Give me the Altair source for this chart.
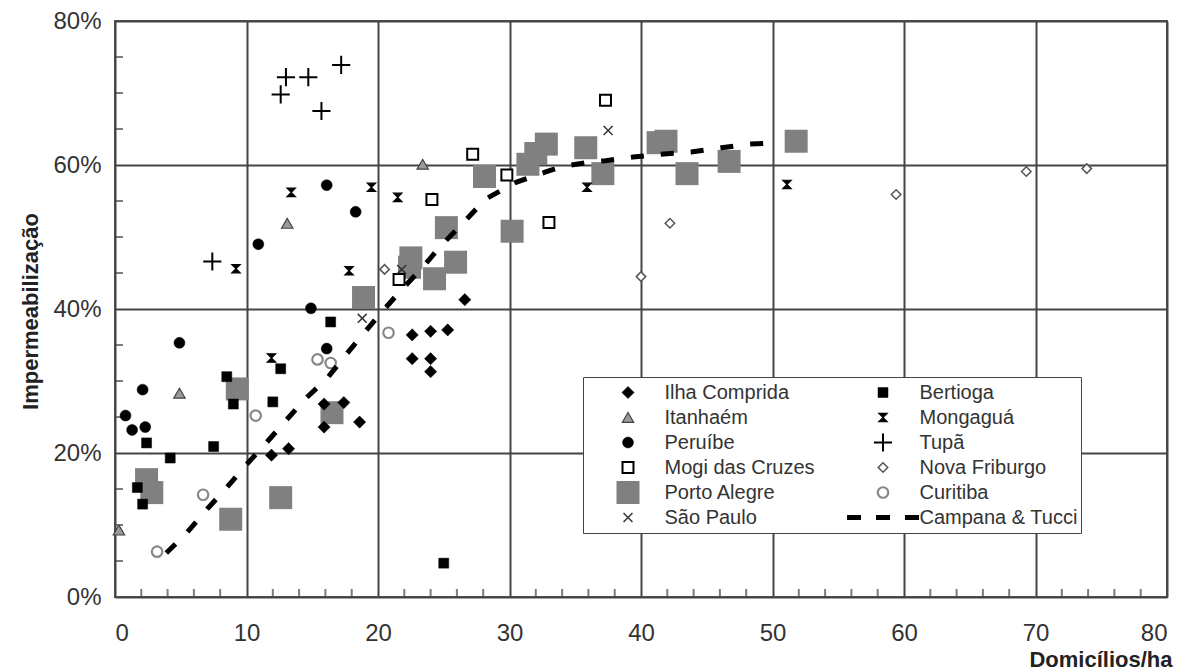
import altair as alt
import pandas as pd

# ---------------- data ----------------
series_order = ["Ilha Comprida", "Itanhaém", "Peruíbe", "Mogi das Cruzes", "Porto Alegre",
                "São Paulo", "Bertioga", "Mongaguá", "Tupã", "Nova Friburgo", "Curitiba",
                "Campana & Tucci"]

porto_alegre_x = [32.8, 32.0, 31.4, 35.8, 37.1, 28.1, 30.2, 25.2, 25.9, 24.3, 22.5, 22.4,
                  41.3, 41.9, 43.5, 46.7, 51.8, 18.9, 9.3, 16.5, 2.4, 2.8, 8.8, 12.6]
porto_alegre_y = [62.9, 61.6, 60.1, 62.4, 58.8, 58.4, 50.8, 51.3, 46.5, 44.2, 47.1, 45.8,
                  63.1, 63.3, 58.8, 60.5, 63.3, 41.6, 28.9, 25.6, 16.3, 14.5, 10.8, 13.8]

ilha_x = [11.9, 13.2, 15.9, 15.9, 17.4, 18.6, 22.6, 24.0, 25.3, 22.6, 24.0, 24.0, 26.6]
ilha_y = [19.7, 20.6, 23.6, 26.8, 27.0, 24.3, 36.4, 36.9, 37.1, 33.1, 33.1, 31.3, 41.3]

bertioga_x = [16.4, 8.5, 12.6, 9.0, 12.0, 2.4, 7.5, 4.2, 1.7, 2.1, 25.0]
bertioga_y = [38.2, 30.6, 31.7, 26.8, 27.1, 21.4, 20.9, 19.3, 15.2, 12.9, 4.7]

itanhaem_x = [0.3, 4.9, 13.1, 23.4]
itanhaem_y = [9.3, 28.3, 51.9, 60.1]

mongagua_x = [13.4, 19.5, 21.5, 9.2, 17.8, 35.9, 51.1, 11.9]
mongagua_y = [56.2, 56.9, 55.5, 45.6, 45.3, 56.9, 57.3, 33.2]

peruibe_x = [0.8, 1.3, 2.3, 2.1, 4.9, 10.9, 16.1, 18.3, 16.1, 14.9]
peruibe_y = [25.2, 23.2, 23.6, 28.8, 35.3, 49.0, 57.2, 53.5, 34.5, 40.1]

tupa_x = [7.4, 13.0, 14.7, 12.6, 17.2, 15.7]
tupa_y = [46.6, 72.2, 72.2, 69.8, 73.9, 67.5]

mogi_x = [37.3, 27.2, 24.1, 29.8, 33.0, 21.6]
mogi_y = [69.0, 61.5, 55.2, 58.6, 52.0, 44.1]

friburgo_x = [20.5, 40.0, 42.2, 59.4, 69.3, 73.9]
friburgo_y = [45.5, 44.5, 51.9, 55.9, 59.1, 59.5]

curitiba_x = [3.2, 6.7, 10.7, 15.4, 16.4, 20.8]
curitiba_y = [6.3, 14.2, 25.2, 33.0, 32.5, 36.7]

saopaulo_x = [18.8, 21.8, 37.5]
saopaulo_y = [38.7, 45.5, 64.8]

campana_x = [3.9, 5.5, 7.0, 8.5, 10.0, 11.5, 12.9, 14.4, 16.1, 17.5, 18.9, 20.3, 21.8, 23.4,
             24.8, 26.5, 28.2, 30.5, 32.7, 34.0, 36.1, 37.3, 39.4, 41.5, 43.8, 46.1, 48.2, 50.4]
campana_y = [6.1, 9.0, 12.2, 15.2, 18.4, 21.4, 24.3, 27.4, 30.3, 33.5, 36.6, 39.6, 42.7, 45.8,
             48.8, 52.0, 55.3, 57.6, 59.0, 59.8, 60.4, 60.6, 61.1, 61.5, 61.8, 62.4, 62.9, 63.1]

x_major = [0, 10, 20, 30, 40, 50, 60, 70, 80]
y_major = [0.0, 0.2, 0.4, 0.6, 0.8]
x_minor = [v for v in range(2, 80, 2) if v % 10 != 0]
y_minor = [v / 100 for v in range(5, 80, 5) if v % 20 != 0]

# ---------------- tables ----------------
groups = [
    ("Porto Alegre", porto_alegre_x, porto_alegre_y),
    ("Ilha Comprida", ilha_x, ilha_y),
    ("Bertioga", bertioga_x, bertioga_y),
    ("Itanhaém", itanhaem_x, itanhaem_y),
    ("Mongaguá", mongagua_x, mongagua_y),
    ("Peruíbe", peruibe_x, peruibe_y),
    ("Tupã", tupa_x, tupa_y),
    ("Mogi das Cruzes", mogi_x, mogi_y),
    ("Nova Friburgo", friburgo_x, friburgo_y),
    ("Curitiba", curitiba_x, curitiba_y),
    ("São Paulo", saopaulo_x, saopaulo_y),
]
rows = []
for name, xs, ys in groups:
    for a, b in zip(xs, ys):
        rows.append({"serie": name, "x": a, "y": b / 100})
pts = pd.DataFrame(rows)
curve = pd.DataFrame({"x": campana_x, "y": [v / 100 for v in campana_y]})
xminor_df = pd.DataFrame({"x": x_minor})
yminor_df = pd.DataFrame({"y": y_minor})

# ---------------- styling ----------------
FONT = "Liberation Sans"
hourglass = "M-1,-1L1,-1L-1,1L1,1Z"
plus = "M-1,0L1,0M0,-1L0,1"
xcross = "M-1,-1L1,1M-1,1L1,-1"
dashes = "M-3.6,0L-2.2,0M-0.7,0L0.7,0M2.2,0L3.6,0"

style = {
    # serie: (shape, fill, stroke, size, strokeWidth)
    "Ilha Comprida": ("diamond", "black", "black", 150, 0.5),
    "Itanhaém": ("triangle-up", "#9a9a9a", "#444444", 130, 1.2),
    "Peruíbe": ("circle", "black", "black", 120, 0.5),
    "Mogi das Cruzes": ("square", "white", "black", 120, 2.0),
    "Porto Alegre": ("square", "#808080", "#808080", 529, 0.0),
    "São Paulo": (xcross, "transparent", "#333333", 80, 1.5),
    "Bertioga": ("square", "black", "black", 100, 0.5),
    "Mongaguá": (hourglass, "black", "black", 70, 1.2),
    "Tupã": (plus, "transparent", "black", 330, 2.0),
    "Nova Friburgo": ("diamond", "white", "#555555", 90, 1.5),
    "Curitiba": ("circle", "white", "#888888", 110, 2.2),
    "Campana & Tucci": (dashes, "transparent", "black", 400, 5.0),
}
shape_range = [style[s][0] for s in series_order]
fill_range = [style[s][1] for s in series_order]
stroke_range = [style[s][2] for s in series_order]
size_range = [style[s][3] for s in series_order]
sw_range = [style[s][4] for s in series_order]

legend = alt.Legend(
    title=None, orient="none", legendX=468, legendY=356, columns=2,
    fillColor="white", strokeColor="#444444", padding=3,
    labelFont=FONT, labelFontSize=20, labelColor="#333333", labelLimit=400,
    symbolOffset=29.5, labelOffset=24, columnPadding=26, rowPadding=0,
    clipHeight=25, symbolOpacity=1,
)

x_scale = alt.Scale(domain=[0, 80], nice=False, zero=False)
y_scale = alt.Scale(domain=[0, 0.8], nice=False, zero=False)

x_axis = alt.Axis(values=x_major, format="d", grid=True, gridColor="#444444", gridWidth=2,
                  ticks=False, domain=False, labelFont=FONT, labelFontSize=24,
                  labelColor="#333333", labelPadding=24,
                  title="Domicílios/ha", titleFont=FONT, titleFontSize=22,
                  titleFontWeight="bold", titleColor="#222222",
                  titleX=1057, titleY=69, titleAlign="right", titleBaseline="alphabetic")
y_axis = alt.Axis(values=y_major, format=".0%", grid=True, gridColor="#444444", gridWidth=2,
                  ticks=False, domain=False, labelFont=FONT, labelFontSize=24,
                  labelColor="#333333", labelPadding=14,
                  title="Impermeabilização", titleFont=FONT, titleFontSize=22,
                  titleFontWeight="bold", titleColor="#222222",
                  titleX=-85, titleY=290, titleAngle=270, titleAlign="center",
                  titleBaseline="middle")

X = alt.X("x:Q", scale=x_scale, axis=x_axis)
Y = alt.Y("y:Q", scale=y_scale, axis=y_axis)

points = alt.Chart(pts).mark_point(filled=True, opacity=1, fillOpacity=1, strokeOpacity=1).encode(
    x=X, y=Y,
    shape=alt.Shape("serie:N", scale=alt.Scale(domain=series_order, range=shape_range), legend=legend),
    fill=alt.Fill("serie:N", scale=alt.Scale(domain=series_order, range=fill_range), legend=legend),
    stroke=alt.Stroke("serie:N", scale=alt.Scale(domain=series_order, range=stroke_range), legend=legend),
    size=alt.Size("serie:N", scale=alt.Scale(type="ordinal", domain=series_order, range=size_range), legend=legend),
    strokeWidth=alt.StrokeWidth("serie:N", scale=alt.Scale(type="ordinal", domain=series_order, range=sw_range), legend=legend),
)

line = alt.Chart(curve).mark_line(color="black", strokeWidth=5, strokeDash=[13, 17]).encode(
    x=X, y=Y, order=alt.Order("x:Q"))

xticks = alt.Chart(xminor_df).mark_tick(orient="vertical", size=16, thickness=2,
                                         color="#444444", clip=True).encode(
    x=X, y=alt.datum(0))
yticks = alt.Chart(yminor_df).mark_tick(orient="horizontal", size=16, thickness=2,
                                         color="#444444", clip=True).encode(
    y=Y, x=alt.datum(0))

chart = alt.layer(xticks, yticks, points, line).properties(
    width=1052, height=576,
    padding={"left": 115, "top": 21, "right": 22, "bottom": 74},
    autosize=alt.AutoSizeParams(type="none"),
    background="white",
).configure_view(stroke="#555555", strokeWidth=2)

chart.save("out.html", embed_options={"renderer": "svg", "actions": False})
